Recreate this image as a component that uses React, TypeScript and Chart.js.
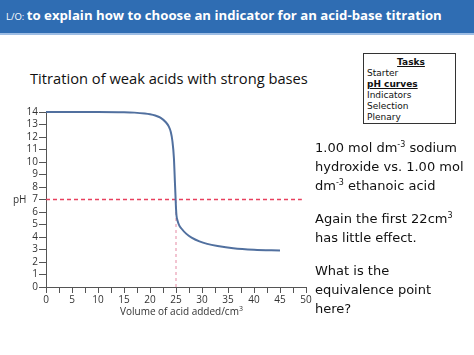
import React, { useEffect, useRef } from "react";
import { Chart, registerables } from "chart.js";
Chart.register(...registerables);

// Titration curve: volume of acid added (cm3) vs pH
const volumes = [0, 10, 15, 17, 19, 20, 21, 22, 23, 23.6, 24, 24.3, 24.6, 24.8, 24.92, 25, 25.1, 25.3, 25.6, 26, 27, 28, 29.5, 31, 33, 36, 40, 45];
const phValues = [14, 14, 13.98, 13.95, 13.88, 13.82, 13.72, 13.55, 13.2, 12.85, 12.4, 11.7, 10.3, 8.3, 7.1, 6.3, 5.7, 5.3, 4.95, 4.7, 4.25, 3.95, 3.65, 3.45, 3.28, 3.1, 2.98, 2.92];

// Guide lines
const neutralX = [0, 49.2];
const neutralY = [7, 7];
const equivX = [25, 25];
const equivY = [0, 7];

const xMin = 0, xMax = 50, xStep = 2.5, xLabelEvery = 5;
const yMin = 0, yMax = 14, yStep = 1;

const tasks = ["Starter", "pH curves", "Indicators", "Selection", "Plenary"];
const currentTask = "pH curves";

const pts = (xs: number[], ys: number[]) => xs.map((x, i) => ({ x, y: ys[i] }));

export default function App() {
  const ref = useRef<HTMLCanvasElement>(null);
  useEffect(() => {
    const chart = new Chart(ref.current!, {
      type: "line",
      data: {
        datasets: [
          {
            data: pts(volumes, phValues),
            borderColor: "#51709f",
            borderWidth: 2,
            pointRadius: 0,
            cubicInterpolationMode: "monotone",
            fill: false,
            clip: 10,
          } as any,
          {
            data: pts(neutralX, neutralY),
            borderColor: "#e8405e",
            borderWidth: 1.4,
            borderDash: [4, 3],
            pointRadius: 0,
            fill: false,
          },
          {
            data: pts(equivX, equivY),
            borderColor: "#e58aa3",
            borderWidth: 1,
            borderDash: [3, 3],
            pointRadius: 0,
            fill: false,
          },
        ],
      },
      options: {
        animation: false,
        responsive: false,
        devicePixelRatio: 1,
        layout: { padding: { top: 112, right: 168, left: 0, bottom: 0 } },
        plugins: { legend: { display: false }, tooltip: { enabled: false } },
        scales: {
          x: {
            type: "linear",
            min: xMin,
            max: xMax,
            afterFit: (s: any) => { s.height = 68; },
            ticks: {
              stepSize: xStep,
              autoSkip: false,
              maxRotation: 0,
              color: "#333",
              font: { family: "'Open Sans', sans-serif", size: 10 },
              padding: 1,
              callback: (v: any) => (Number(v) % xLabelEvery === 0 ? String(v) : ""),
            },
            grid: { drawOnChartArea: false, drawTicks: true, tickLength: 6, color: "#555" },
            border: { display: true, color: "#555", width: 1 },
          },
          y: {
            min: yMin,
            max: yMax,
            afterFit: (s: any) => { s.width = 46; },
            ticks: {
              stepSize: yStep,
              autoSkip: false,
              color: "#333",
              font: { family: "'Open Sans', sans-serif", size: 10 },
              padding: 1,
            },
            grid: { drawOnChartArea: false, drawTicks: true, tickLength: 7, color: "#555" },
            border: { display: true, color: "#555", width: 1 },
          },
        },
      },
    });
    return () => chart.destroy();
  }, []);

  const abs = (s: React.CSSProperties): React.CSSProperties => ({ position: "absolute", ...s });
  const right: React.CSSProperties = { fontFamily: "'DejaVu Sans', sans-serif", fontSize: 13, color: "#111", whiteSpace: "nowrap", lineHeight: "19px" };
  const sup = (size: number): React.CSSProperties => ({ fontSize: size, lineHeight: 0, verticalAlign: "super" });

  return (
    <div style={{ position: "fixed", left: 0, top: 0, width: 474, height: 355, background: "#fff", overflow: "hidden" }}>
      <div style={abs({ left: 0, top: 0, width: 474, height: 33, background: "#2f6db3", borderBottom: "2px solid #9dbde4" })} />
      <div style={abs({ left: 6, top: 4, color: "#fff", fontFamily: "'Open Sans', sans-serif", whiteSpace: "nowrap", lineHeight: "20px" })}>
        <span style={{ fontSize: 9.5 }}>L/O: </span>
        <span style={{ fontSize: 13.2, fontWeight: 700 }}>to explain how to choose an indicator for an acid-base titration</span>
      </div>
      <div style={abs({ left: 30, top: 68, fontFamily: "'Open Sans', sans-serif", fontSize: 14.7, color: "#111", whiteSpace: "nowrap", lineHeight: "20px" })}>
        Titration of weak acids with strong bases
      </div>
      <div style={abs({ left: 363, top: 53, width: 93, height: 71, border: "1px solid #333", fontFamily: "'DejaVu Sans', sans-serif", fontSize: 9, lineHeight: "11px", color: "#111", padding: "3px 0 0 3px", boxSizing: "border-box" })}>
        <div style={{ textAlign: "center", fontWeight: 700, textDecoration: "underline" }}>Tasks</div>
        {tasks.map((t) => (
          <div key={t} style={t === currentTask ? { fontWeight: 700, textDecoration: "underline" } : {}}>{t}</div>
        ))}
      </div>
      <canvas ref={ref} width={474} height={355} style={abs({ left: 0, top: 0 })} />
      <div style={abs({ left: 13, top: 192, fontFamily: "'Open Sans', sans-serif", fontSize: 10, color: "#333" })}>pH</div>
      <div style={abs({ left: 120, top: 305, fontFamily: "'Open Sans', sans-serif", fontSize: 10, lineHeight: "12px", color: "#333", whiteSpace: "nowrap" })}>
        Volume of acid added/cm<span style={sup(7)}>3</span>
      </div>
      <div style={abs({ left: 315, top: 138, ...right })}>
        <div>1.00 mol dm<span style={sup(8)}>-3</span> sodium</div>
        <div>hydroxide vs. 1.00 mol</div>
        <div>dm<span style={sup(8)}>-3</span> ethanoic acid</div>
        <div style={{ height: 14 }} />
        <div>Again the first 22cm<span style={sup(8)}>3</span></div>
        <div>has little effect.</div>
        <div style={{ height: 14 }} />
        <div>What is the</div>
        <div>equivalence point</div>
        <div>here?</div>
      </div>
    </div>
  );
}
